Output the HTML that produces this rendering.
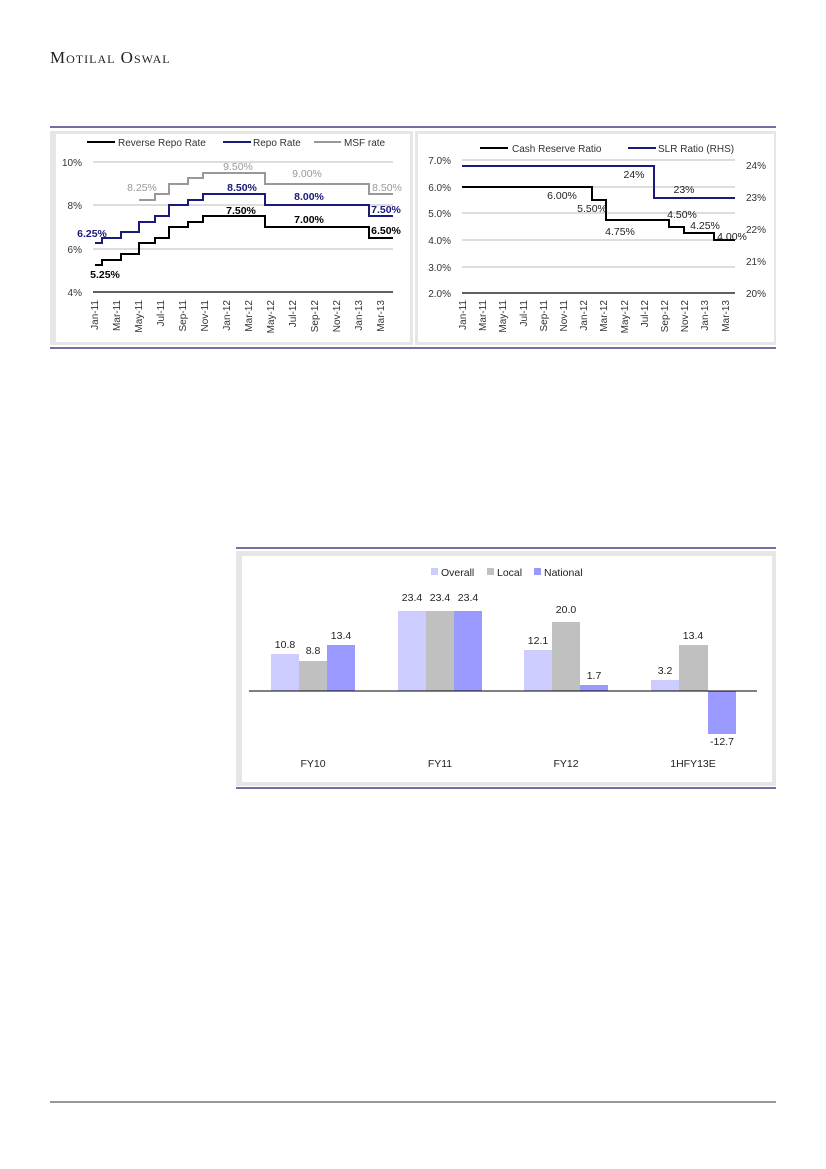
<!DOCTYPE html>
<html><head><meta charset="utf-8"><style>
html,body{margin:0;padding:0;background:#fff;}
svg{display:block;}
text{font-family:"Liberation Sans",sans-serif;}
</style></head><body>
<svg width="826" height="1169" viewBox="0 0 826 1169" xmlns="http://www.w3.org/2000/svg">
<text x="50" y="63" font-family="Liberation Serif,serif" font-size="17" fill="#222" style="font-variant:small-caps;font-family:'Liberation Serif',serif" letter-spacing="1">Motilal Oswal</text>

<!-- top frame -->
<line x1="50" y1="127" x2="776" y2="127" stroke="#1a1a6e" stroke-width="1.2"/>
<line x1="50" y1="348" x2="776" y2="348" stroke="#1a1a6e" stroke-width="1.2"/>
<rect x="50" y="131" width="363" height="214" fill="#e6e6e6"/>
<rect x="56" y="134" width="354" height="208" fill="#fff"/>
<rect x="415" y="131" width="361" height="214" fill="#e6e6e6"/>
<rect x="418" y="134" width="356" height="208" fill="#fff"/>

<!-- LEFT CHART -->
<g font-size="10" fill="#333">
<line x1="87" y1="142" x2="115" y2="142" stroke="#000" stroke-width="2"/>
<text x="118" y="146">Reverse Repo Rate</text>
<line x1="223" y1="142" x2="251" y2="142" stroke="#1a1a7a" stroke-width="2"/>
<text x="253" y="146">Repo Rate</text>
<line x1="314" y1="142" x2="341" y2="142" stroke="#999" stroke-width="2"/>
<text x="344" y="146">MSF rate</text>
<g stroke="#bbb" stroke-width="1">
<line x1="93" y1="162" x2="393" y2="162"/><line x1="93" y1="205" x2="393" y2="205"/><line x1="93" y1="249" x2="393" y2="249"/>
</g>
<line x1="93" y1="292" x2="393" y2="292" stroke="#000" stroke-width="1.2"/>
<text x="82" y="166" text-anchor="end">10%</text>
<text x="82" y="209" text-anchor="end">8%</text>
<text x="82" y="253" text-anchor="end">6%</text>
<text x="82" y="296" text-anchor="end">4%</text>
<!-- MSF -->
<polyline fill="none" stroke="#999" stroke-width="2" points="139,200 155,200 155,194 169,194 169,184 188,184 188,178 203,178 203,173 265,173 265,184 369,184 369,194 393,194"/>
<!-- Repo -->
<polyline fill="none" stroke="#1a1a7a" stroke-width="2" points="95,243 102,243 102,238 121,238 121,232 139,232 139,222 155,222 155,216 169,216 169,205 188,205 188,200 203,200 203,194 265,194 265,205 369,205 369,216 393,216"/>
<!-- Reverse repo -->
<polyline fill="none" stroke="#000" stroke-width="2" points="95,265 102,265 102,260 121,260 121,254 139,254 139,243 155,243 155,238 169,238 169,227 188,227 188,222 203,222 203,216 265,216 265,227 369,227 369,238 393,238"/>
<g font-size="10.5" text-anchor="middle">
<text x="238" y="170" fill="#999">9.50%</text>
<text x="307" y="177" fill="#999">9.00%</text>
<text x="142" y="191" fill="#999">8.25%</text>
<text x="387" y="191" fill="#999">8.50%</text>
<text x="242" y="191" fill="#1a1a7a" font-weight="bold">8.50%</text>
<text x="309" y="200" fill="#1a1a7a" font-weight="bold">8.00%</text>
<text x="386" y="213" fill="#1a1a7a" font-weight="bold">7.50%</text>
<text x="92" y="237" fill="#1a1a7a" font-weight="bold">6.25%</text>
<text x="241" y="214" fill="#000" font-weight="bold">7.50%</text>
<text x="309" y="223" fill="#000" font-weight="bold">7.00%</text>
<text x="386" y="234" fill="#000" font-weight="bold">6.50%</text>
<text x="105" y="278" fill="#000" font-weight="bold">5.25%</text>
</g>
<g font-size="10" text-anchor="end">
<text transform="translate(98,300) rotate(-90)">Jan-11</text>
<text transform="translate(120,300) rotate(-90)">Mar-11</text>
<text transform="translate(142,300) rotate(-90)">May-11</text>
<text transform="translate(164,300) rotate(-90)">Jul-11</text>
<text transform="translate(186,300) rotate(-90)">Sep-11</text>
<text transform="translate(208,300) rotate(-90)">Nov-11</text>
<text transform="translate(230,300) rotate(-90)">Jan-12</text>
<text transform="translate(252,300) rotate(-90)">Mar-12</text>
<text transform="translate(274,300) rotate(-90)">May-12</text>
<text transform="translate(296,300) rotate(-90)">Jul-12</text>
<text transform="translate(318,300) rotate(-90)">Sep-12</text>
<text transform="translate(340,300) rotate(-90)">Nov-12</text>
<text transform="translate(362,300) rotate(-90)">Jan-13</text>
<text transform="translate(384,300) rotate(-90)">Mar-13</text>
</g>
</g>

<!-- RIGHT CHART -->
<g font-size="10" fill="#333">
<line x1="480" y1="148" x2="508" y2="148" stroke="#000" stroke-width="2"/>
<text x="512" y="152">Cash Reserve Ratio</text>
<line x1="628" y1="148" x2="656" y2="148" stroke="#1a1a7a" stroke-width="2"/>
<text x="658" y="152">SLR Ratio (RHS)</text>
<g stroke="#bbb" stroke-width="1">
<line x1="462" y1="160" x2="735" y2="160"/><line x1="462" y1="187" x2="735" y2="187"/><line x1="462" y1="213" x2="735" y2="213"/><line x1="462" y1="240" x2="735" y2="240"/><line x1="462" y1="267" x2="735" y2="267"/>
</g>
<line x1="462" y1="293" x2="735" y2="293" stroke="#000" stroke-width="1.2"/>
<g text-anchor="end">
<text x="451" y="164">7.0%</text><text x="451" y="191">6.0%</text><text x="451" y="217">5.0%</text><text x="451" y="244">4.0%</text><text x="451" y="271">3.0%</text><text x="451" y="297">2.0%</text>
</g>
<text x="746" y="169">24%</text><text x="746" y="201">23%</text><text x="746" y="233">22%</text><text x="746" y="265">21%</text><text x="746" y="297">20%</text>
<polyline fill="none" stroke="#1a1a7a" stroke-width="2" points="462,166 654,166 654,198 735,198"/>
<polyline fill="none" stroke="#000" stroke-width="2" points="462,187 592,187 592,200 606,200 606,220 669,220 669,227 684,227 684,233 714,233 714,240 735,240"/>
<g font-size="10.5" text-anchor="middle" fill="#222">
<text x="562" y="199">6.00%</text>
<text x="592" y="212">5.50%</text>
<text x="620" y="235">4.75%</text>
<text x="682" y="218">4.50%</text>
<text x="705" y="229">4.25%</text>
<text x="732" y="240">4.00%</text>
<text x="634" y="178">24%</text>
<text x="684" y="193">23%</text>
</g>
<g font-size="10" text-anchor="end">
<text transform="translate(466,300) rotate(-90)">Jan-11</text>
<text transform="translate(486,300) rotate(-90)">Mar-11</text>
<text transform="translate(506,300) rotate(-90)">May-11</text>
<text transform="translate(527,300) rotate(-90)">Jul-11</text>
<text transform="translate(547,300) rotate(-90)">Sep-11</text>
<text transform="translate(567,300) rotate(-90)">Nov-11</text>
<text transform="translate(587,300) rotate(-90)">Jan-12</text>
<text transform="translate(607,300) rotate(-90)">Mar-12</text>
<text transform="translate(628,300) rotate(-90)">May-12</text>
<text transform="translate(648,300) rotate(-90)">Jul-12</text>
<text transform="translate(668,300) rotate(-90)">Sep-12</text>
<text transform="translate(688,300) rotate(-90)">Nov-12</text>
<text transform="translate(708,300) rotate(-90)">Jan-13</text>
<text transform="translate(729,300) rotate(-90)">Mar-13</text>
</g>
</g>

<!-- BAR CHART -->
<line x1="236" y1="548" x2="776" y2="548" stroke="#1a1a6e" stroke-width="1.2"/>
<line x1="236" y1="788" x2="776" y2="788" stroke="#1a1a6e" stroke-width="1.2"/>
<rect x="236" y="551" width="540" height="235" fill="#e6e6e6"/>
<rect x="242" y="556" width="530" height="226" fill="#fff"/>
<g font-size="10.5" fill="#222">
<rect x="431" y="568" width="7" height="7" fill="#ccccff"/><text x="441" y="576">Overall</text>
<rect x="487" y="568" width="7" height="7" fill="#c0c0c0"/><text x="497" y="576">Local</text>
<rect x="534" y="568" width="7" height="7" fill="#9999ff"/><text x="544" y="576">National</text>
<rect x="271" y="654" width="28" height="37" fill="#ccccff"/>
<rect x="299" y="661" width="28" height="30" fill="#c0c0c0"/>
<rect x="327" y="645" width="28" height="46" fill="#9999ff"/>
<rect x="398" y="611" width="28" height="80" fill="#ccccff"/>
<rect x="426" y="611" width="28" height="80" fill="#c0c0c0"/>
<rect x="454" y="611" width="28" height="80" fill="#9999ff"/>
<rect x="524" y="650" width="28" height="41" fill="#ccccff"/>
<rect x="552" y="622" width="28" height="69" fill="#c0c0c0"/>
<rect x="580" y="685" width="28" height="6" fill="#9999ff"/>
<rect x="651" y="680" width="28" height="11" fill="#ccccff"/>
<rect x="679" y="645" width="29" height="46" fill="#c0c0c0"/>
<rect x="708" y="691" width="28" height="43" fill="#9999ff"/>
<line x1="249" y1="691" x2="757" y2="691" stroke="#000" stroke-width="1"/>
<g text-anchor="middle">
<text x="285" y="648">10.8</text><text x="313" y="654">8.8</text><text x="341" y="639">13.4</text>
<text x="412" y="601">23.4</text><text x="440" y="601">23.4</text><text x="468" y="601">23.4</text>
<text x="538" y="644">12.1</text><text x="566" y="613">20.0</text><text x="594" y="679">1.7</text>
<text x="665" y="674">3.2</text><text x="693" y="639">13.4</text><text x="722" y="745">-12.7</text>
<text x="313" y="767">FY10</text><text x="440" y="767">FY11</text><text x="566" y="767">FY12</text><text x="693" y="767">1HFY13E</text>
</g>
</g>

<line x1="50" y1="1102" x2="776" y2="1102" stroke="#333" stroke-width="1"/>
</svg>
</body></html>
